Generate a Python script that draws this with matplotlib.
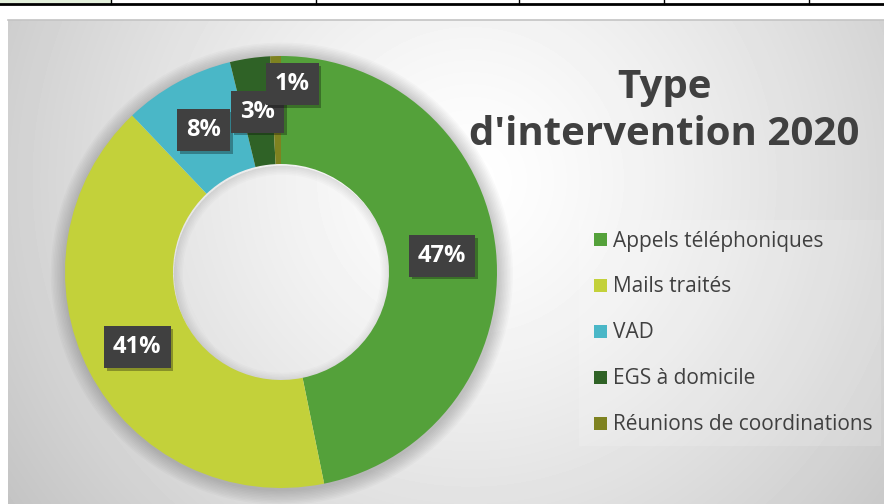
import matplotlib
matplotlib.use("Agg")
import matplotlib.pyplot as plt
import matplotlib.patheffects as pe
from matplotlib.patches import Rectangle, Wedge
import numpy as np

# data (percent of interventions)
categories = ["Appels téléphoniques", "Mails traités", "VAD",
              "EGS à domicile", "Réunions de coordinations"]
values = [46.8, 41.1, 8.3, 3.0, 0.8]
colors = ["#54A13A", "#C3D13A", "#4AB7C7", "#2F6226", "#7E8220"]
title = "Type\nd'intervention 2020"

W, H = 884, 504
plt.rcParams["font.family"] = ["Open Sans", "DejaVu Sans"]

fig = plt.figure(figsize=(W / 100, H / 100), dpi=100)
fig.patch.set_facecolor("white")

# chart area with radial grey gradient
bg = fig.add_axes([0, 0, 1, 1])
bg.axis("off")
x0, y0 = 8, 20
xx, yy = np.meshgrid(np.arange(x0, W), np.arange(y0, H))
d = np.hypot(xx - 470, yy - 180) / 520
shade = 1 - 0.21 * np.clip(d, 0, 1.1) ** 1.3
bg.imshow(shade, cmap="gray", vmin=0, vmax=1, extent=(x0, W, H, y0),
          aspect="auto", interpolation="bilinear")
bg.set_xlim(0, W)
bg.set_ylim(H, 0)
bg.plot([x0, W], [y0, y0], color="#c4c4c4", lw=1.2)

# table borders above the chart
bg.add_patch(Rectangle((0, 0), 111, 3, color="#e2efda", lw=0))
bg.plot([0, W], [4, 4], color="black", lw=2)
for xv in [111, 316, 519, 664, 809]:
    bg.plot([xv, xv], [0, 4], color="black", lw=1)

# legend background (slightly lighter)
bg.add_patch(Rectangle((579, 220), 302, 226, color="white", alpha=0.15, lw=0))

# donut
cx, cy, R = 281, 272, 216
ax = fig.add_axes([(cx - R) / W, (H - cy - R) / H, 2 * R / W, 2 * R / H])
ax.patch.set_alpha(0)

wedges, _ = ax.pie(values, colors=colors, startangle=90, counterclock=False,
                   radius=1, wedgeprops=dict(width=0.5, linewidth=0))
for w in wedges:
    w.set_zorder(2)
ax.set_xlim(-1, 1)
ax.set_ylim(-1, 1)
ax.axis("off")

# soft shadow around the ring (outer edge and inner edge)
for k in range(10):
    ax.add_patch(Wedge((0.004, -0.008), 1 + 0.007 * (k + 1), 0, 360,
                       width=0.007 * (k + 1) + 0.02, color="black",
                       alpha=0.018, lw=0, zorder=1, clip_on=False))
for k in range(6):
    ax.add_patch(Wedge((0.004, -0.008), 0.5, 0, 360,
                       width=0.007 * (k + 1), color="black",
                       alpha=0.015, lw=0, zorder=1, clip_on=False))

total = sum(values)
cum = np.cumsum([0] + values)
for i, v in enumerate(values):
    mid = 90 - 360 * (cum[i] + v / 2) / total
    r = 0.75
    tx, ty = r * np.cos(np.radians(mid)), r * np.sin(np.radians(mid))
    if i == len(values) - 1:
        # last label was moved up in the original to avoid overlap
        tx, ty = tx + 0.07, ty + 0.12
    t = ax.text(tx, ty, f"{round(v)}%", ha="center", va="center",
                color="white", fontsize=17, fontweight="bold", zorder=5,
                bbox=dict(boxstyle="square,pad=0.38", facecolor="#404040",
                          edgecolor="none"))
    t.get_bbox_patch().set_path_effects(
        [pe.withSimplePatchShadow(offset=(2, -2), shadow_rgbFace="black", alpha=0.3)])

# title
fig.text(664 / W, 1 - 111 / H, title, ha="center", va="center",
         fontsize=29, fontweight="bold", color="#404040", linespacing=1.25)

# legend
leg = fig.legend(wedges, categories, loc="center left",
                 bbox_to_anchor=(584 / W, 1 - 333 / H), frameon=False,
                 fontsize=15, labelspacing=1.2, handlelength=0.6,
                 handleheight=0.6, handletextpad=0.3, borderpad=0)
for txt in leg.get_texts():
    txt.set_color("#404040")

fig.savefig("out.png", dpi=100)
